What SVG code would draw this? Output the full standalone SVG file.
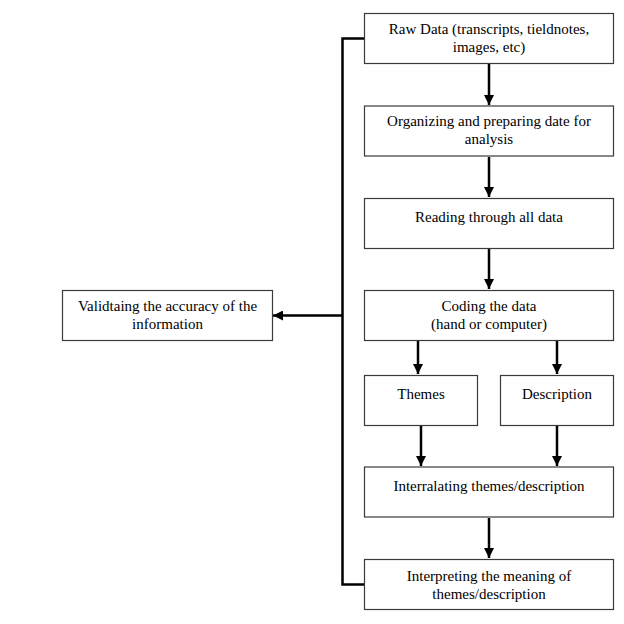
<svg xmlns="http://www.w3.org/2000/svg" width="624" height="624" viewBox="0 0 624 624">
<style>
.box{fill:#fff;stroke:#3a3a3a;stroke-width:1.2}
.t{font-family:"Liberation Serif","Times New Roman",serif;font-size:15px;fill:#000;text-anchor:middle}
.c{fill:none;stroke:#000;stroke-width:2.5}
</style>
<defs>
<marker id="ah" viewBox="0 0 10 10" refX="10" refY="5" markerWidth="4" markerHeight="4" orient="auto" markerUnits="strokeWidth">
<path d="M0,0 L10,5 L0,10 z" fill="#000"/>
</marker>
</defs>
<rect width="624" height="624" fill="#fff"/>
<g id="connectors">
<line class="c" x1="489" y1="64" x2="489" y2="105" marker-end="url(#ah)"/>
<line class="c" x1="489" y1="157" x2="489" y2="197" marker-end="url(#ah)"/>
<line class="c" x1="489" y1="249" x2="489" y2="289" marker-end="url(#ah)"/>
<line class="c" x1="418" y1="341" x2="418" y2="374" marker-end="url(#ah)"/>
<line class="c" x1="557" y1="341" x2="557" y2="374" marker-end="url(#ah)"/>
<line class="c" x1="421" y1="426" x2="421" y2="466" marker-end="url(#ah)"/>
<line class="c" x1="557" y1="426" x2="557" y2="466" marker-end="url(#ah)"/>
<line class="c" x1="489" y1="518" x2="489" y2="558" marker-end="url(#ah)"/>
<polyline class="c" points="364,38.5 342.5,38.5 342.5,584.5 364,584.5"/>
<line class="c" x1="342" y1="315.5" x2="273" y2="315.5" marker-end="url(#ah)"/>
</g>
<g id="raw"><rect class="box" x="364.5" y="13.5" width="249" height="50"/><text class="t" x="489" y="34">Raw Data (transcripts, tieldnotes,</text><text class="t" x="489" y="51.5">images, etc)</text></g>
<g id="organizing"><rect class="box" x="364.5" y="106" width="249" height="50"/><text class="t" x="489" y="126">Organizing and preparing date for</text><text class="t" x="489" y="143.5">analysis</text></g>
<g id="reading"><rect class="box" x="364.5" y="198.5" width="249" height="50"/><text class="t" x="489" y="222">Reading through all data</text></g>
<g id="coding"><rect class="box" x="364.5" y="290.5" width="249" height="50"/><text class="t" x="489" y="311">Coding the data</text><text class="t" x="489" y="328.5">(hand or computer)</text></g>
<g id="themes"><rect class="box" x="364.5" y="375.5" width="113" height="50"/><text class="t" x="421" y="399">Themes</text></g>
<g id="description"><rect class="box" x="500.5" y="375.5" width="113" height="50"/><text class="t" x="557" y="399">Description</text></g>
<g id="interrelating"><rect class="box" x="364.5" y="467" width="249" height="50"/><text class="t" x="489" y="491">Interralating themes/description</text></g>
<g id="interpreting"><rect class="box" x="364.5" y="559.5" width="249" height="50"/><text class="t" x="489" y="581">Interpreting the meaning of</text><text class="t" x="489" y="598.5">themes/description</text></g>
<g id="validating"><rect class="box" x="62.5" y="290.5" width="210" height="50"/><text class="t" x="167.5" y="311">Validtaing the accuracy of the</text><text class="t" x="167.5" y="328.5">information</text></g>
</svg>
